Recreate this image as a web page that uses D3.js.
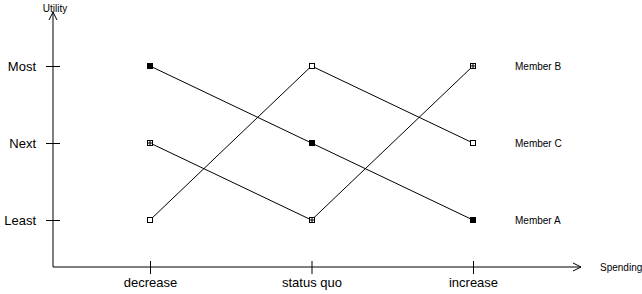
<!DOCTYPE html>
<meta charset="utf-8" />
<script src="https://d3js.org/d3.v7.min.js"></script>
<style>
  body { margin: 0; background: #fff; }
  text { font-family: "Liberation Sans", Arial, sans-serif; fill: #000; }
</style>
<div id="chart"></div>
<script>
  // data
  const spending = ['decrease', 'status quo', 'increase'];
  const utility = ['Least', 'Next', 'Most'];
  const memberA = ['Most', 'Next', 'Least'];
  const memberB = ['Next', 'Least', 'Most'];
  const memberC = ['Least', 'Most', 'Next'];
  const members = [
    { name: 'Member A', values: memberA, marker: 'filled' },
    { name: 'Member B', values: memberB, marker: 'cross' },
    { name: 'Member C', values: memberC, marker: 'open' }
  ];

  const W = 642, H = 294;
  const svg = d3.select('#chart').append('svg').attr('width', W).attr('height', H);

  const x = d3.scalePoint().domain(spending).range([150, 473]);
  const y = d3.scalePoint().domain(utility).range([220, 66]);
  const x0 = 53, y0 = 267;

  // axes lines with arrows
  svg.append('line').attr('x1', x0).attr('y1', y0).attr('x2', x0).attr('y2', 12)
    .attr('stroke', '#000').attr('stroke-width', 1);
  svg.append('path').attr('d', `M${x0 - 4},${20} L${x0},${12} L${x0 + 4},${20}`)
    .attr('fill', 'none').attr('stroke', '#000');
  svg.append('line').attr('x1', x0).attr('y1', y0).attr('x2', 581).attr('y2', y0)
    .attr('stroke', '#000').attr('stroke-width', 1);
  svg.append('path').attr('d', `M${573},${y0 - 4} L${581},${y0} L${573},${y0 + 4}`)
    .attr('fill', 'none').attr('stroke', '#000');

  // y ticks
  const yAxis = d3.axisLeft(y).tickSizeInner(0).tickSizeOuter(0).tickPadding(17);
  const gy = svg.append('g').attr('transform', `translate(${x0},0)`).call(yAxis);
  gy.select('.domain').remove();
  gy.selectAll('.tick line').attr('x1', -7).attr('x2', 7).attr('stroke', '#000');
  gy.selectAll('.tick text').style('font-size', '13px')
    .style('font-family', '"Liberation Sans", Arial, sans-serif').attr('fill', '#000');

  // x ticks
  const xAxis = d3.axisBottom(x).tickSizeInner(0).tickSizeOuter(0).tickPadding(11);
  const gx = svg.append('g').attr('transform', `translate(0,${y0})`).call(xAxis);
  gx.select('.domain').remove();
  gx.selectAll('.tick line').attr('y1', -6).attr('y2', 7).attr('stroke', '#000');
  gx.selectAll('.tick text').style('font-size', '13px')
    .style('font-family', '"Liberation Sans", Arial, sans-serif').attr('fill', '#000');

  // axis titles
  svg.append('text').attr('x', x0 + 2).attr('y', 12).attr('text-anchor', 'middle')
    .style('font-size', '10px').text('Utility');
  svg.append('text').attr('x', 600).attr('y', 271)
    .style('font-size', '10px').text('Spending');

  // lines
  const line = d3.line().x((d, i) => x(spending[i])).y(d => y(d));
  svg.selectAll('.series').data(members).join('path')
    .attr('class', 'series')
    .attr('d', d => line(d.values))
    .attr('fill', 'none').attr('stroke', '#000').attr('stroke-width', 1);

  // markers
  const s = 5;
  members.forEach(m => {
    const g = svg.append('g');
    m.values.forEach((v, i) => {
      const cx = Math.round(x(spending[i])), cy = Math.round(y(v));
      g.append('rect').attr('x', cx - s / 2).attr('y', cy - s / 2)
        .attr('width', s).attr('height', s)
        .attr('fill', m.marker === 'filled' ? '#000' : '#fff')
        .attr('stroke', '#000').attr('stroke-width', 1);
      if (m.marker === 'cross') {
        g.append('path').attr('d', `M${cx - s / 2},${cy} H${cx + s / 2} M${cx},${cy - s / 2} V${cy + s / 2}`)
          .attr('stroke', '#000').attr('stroke-width', 1);
      }
    });
    // legend label at last point
    const last = m.values[m.values.length - 1];
    svg.append('text').attr('x', 515).attr('y', y(last) + 3.5)
      .style('font-size', '10px').text(m.name);
  });
</script>
